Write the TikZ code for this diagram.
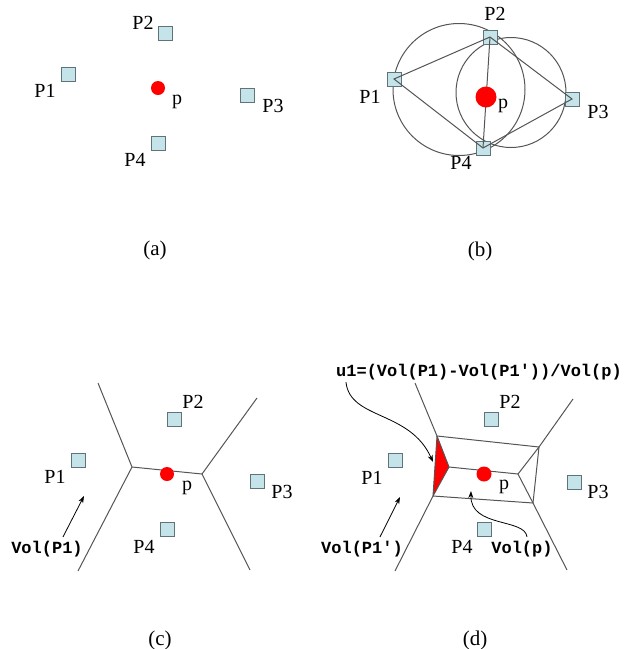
\documentclass[tikz,border=0pt]{standalone}
\usepackage{fontspec}
\setmainfont{Liberation Serif}
\newfontfamily\codefont{Liberation Mono}
\usetikzlibrary{arrows.meta}

\definecolor{sitefill}{RGB}{196,228,234}
\definecolor{siteline}{RGB}{95,115,120}
\definecolor{cellline}{RGB}{85,85,85}

\tikzset{
  site/.style={draw=siteline, fill=sitefill, line width=0.9pt, minimum size=14pt, inner sep=0pt},
  query/.style={circle, fill=red, inner sep=0pt, minimum size=#1},
  query/.default=14pt,
  lbl/.style={inner sep=0pt, font=\fontsize{20}{20}\selectfont},
  subcap/.style={inner sep=0pt, font=\fontsize{21}{21}\selectfont},
  vol/.style={inner sep=0pt, font=\codefont\bfseries\fontsize{17}{17}\selectfont},
  cell/.style={draw=cellline, line width=1pt},
  ptr/.style={-{Stealth[length=7pt,width=5pt]}, line width=0.8pt},
}

\begin{document}
\begin{tikzpicture}[x=1pt, y=-1pt]
    \useasboundingbox (0,0) rectangle (627,649);

    % (a) sites and the query point
    \node[site] (aP1) at (68,74) {};
    \node[site] (aP2) at (165,33) {};
    \node[site] (aP3) at (247,95) {};
    \node[site] (aP4) at (158,143) {};
    \node[query] (ap) at (158,88) {};
    \node[lbl] (aP1l) at (45,91) {P1};
    \node[lbl] (aP2l) at (143,23) {P2};
    \node[lbl] (aP3l) at (273,106) {P3};
    \node[lbl] (aP4l) at (135,160) {P4};
    \node[lbl] (apl) at (177,102) {p};
    \node[subcap] (capa) at (155,250) {(a)};

    % (b) circumcircles and triangles
    \draw[cell] (459,89.5) circle[radius=66pt];
    \draw[cell] (511,92.5) circle[radius=55pt];
    \node[site] (bP1) at (394,79) {};
    \node[site] (bP2) at (490,37) {};
    \node[site] (bP3) at (572,99) {};
    \node[site] (bP4) at (483,148) {};
    \draw[cell] (bP1.center) -- (bP2.center) -- (bP3.center) -- (bP4.center) -- cycle;
    \draw[cell] (bP2.center) -- (bP4.center);
    \node[query=21pt] (bp) at (486,97) {};
    \node[lbl] (bP1l) at (370,97) {P1};
    \node[lbl] (bP2l) at (495,14) {P2};
    \node[lbl] (bP3l) at (598,112) {P3};
    \node[lbl] (bP4l) at (461,163) {P4};
    \node[lbl] (bpl) at (503,106) {p};
    \node[subcap] (capb) at (480,251) {(b)};

    % (c) Voronoi cells without p
    \coordinate (cA) at (132,467);
    \coordinate (cB) at (202,474);
    \coordinate (cA1) at (98,383);
    \coordinate (cA2) at (78,571);
    \coordinate (cB1) at (257,398);
    \coordinate (cB2) at (250,570);
    \draw[cell] (cA1) -- (cA) -- (cA2);
    \draw[cell] (cB1) -- (cB) -- (cB2);
    \draw[cell] (cA) -- (cB);
    \node[site] (cP1) at (78,460) {};
    \node[site] (cP2) at (174,419) {};
    \node[site] (cP3) at (257,481) {};
    \node[site] (cP4) at (167,529) {};
    \node[query] (cp) at (167,474) {};
    \node[lbl] (cP1l) at (55,477) {P1};
    \node[lbl] (cP2l) at (193,402) {P2};
    \node[lbl] (cP3l) at (282,492) {P3};
    \node[lbl] (cP4l) at (144,547) {P4};
    \node[lbl] (cpl) at (187,488) {p};
    \node[vol] (cvol) at (47,549) {Vol(P1)};
    \coordinate (cvolend) at (84,496);
    \draw[ptr] (cvol.north) ++(16,-4) -- (cvolend);
    \node[subcap] (capc) at (160,640) {(c)};

    % (d) Voronoi cells with p inserted
    \coordinate (dA) at (449,467);
    \coordinate (dB) at (518,474);
    \coordinate (dA1) at (415,383);
    \coordinate (dA2) at (395,571);
    \coordinate (dB1) at (573,399);
    \coordinate (dB2) at (567,570);
    \coordinate (dU) at (437,436);
    \coordinate (dL) at (433,496);
    \coordinate (dR1) at (539,447);
    \coordinate (dR2) at (533,503);
    \fill[red] (dU) -- (dA) -- (dL) -- cycle;
    \draw[cell] (dA1) -- (dU) -- (dL) -- (dA2);
    \draw[cell] (dU) -- (dA) -- (dL);
    \draw[cell] (dA) -- (dB);
    \draw[cell] (dB1) -- (dR1) -- (dB) -- (dR2) -- (dB2);
    \draw[cell] (dU) -- (dR1) -- (dR2) -- (dL);
    \node[site] (dP1) at (395,460) {};
    \node[site] (dP2) at (491,419) {};
    \node[site] (dP3) at (574,482) {};
    \node[site] (dP4) at (484,529) {};
    \node[query=15pt] (dp) at (484,474) {};
    \node[lbl] (dP1l) at (372,478) {P1};
    \node[lbl] (dP2l) at (510,402) {P2};
    \node[lbl] (dP3l) at (598,492) {P3};
    \node[lbl] (dP4l) at (462,547) {P4};
    \node[lbl] (dpl) at (504,487) {p};
    \node[vol] (du1) at (479,372) {u1=(Vol(P1)-Vol(P1'))/Vol(p)};
    \node[vol] (dvolq) at (362,549) {Vol(P1')};
    \node[vol] (dvolp) at (522,549) {Vol(p)};
    \coordinate (du1end) at (433,462);
    \coordinate (dvolqend) at (400,497);
    \coordinate (dvolpend) at (471,491);
    \draw[ptr] (du1.south west) ++(10,2) .. controls (350,420) and (410,410) .. (du1end);
    \draw[ptr] (dvolq.north) ++(18,-4) -- (dvolqend);
    \draw[ptr] (dvolp.north) ++(5,-4) .. controls (525,518) and (470,528) .. (dvolpend);
    \node[subcap] (capd) at (475,640) {(d)};
\end{tikzpicture}
\end{document}
